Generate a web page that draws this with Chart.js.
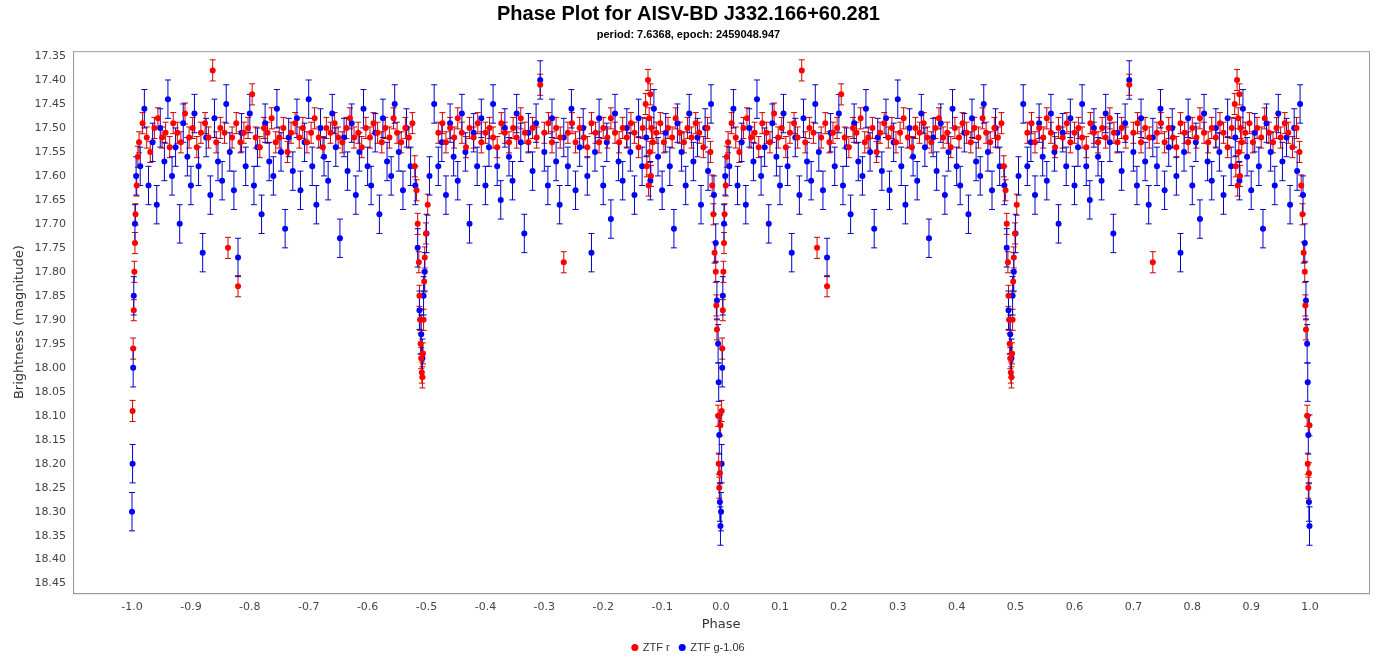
<!DOCTYPE html>
<html>
<head>
<meta charset="utf-8">
<script src="https://cdn.jsdelivr.net/npm/chart.js@4"></script>
<style>
  body { margin: 0; background: #fff; font-family: "DejaVu Sans", sans-serif; }
  #wrap { position: relative; width: 1381px; height: 667px; }
</style>
</head>
<body>
<div id="wrap"><canvas id="phaseChart" width="1381" height="667"></canvas></div>
<script>
// ZTF r: phase (0..1) and magnitude
const rPhase = [0.012,0.018,0.025,0.031,0.038,0.044,0.051,0.057,0.064,0.07,0.077,0.083,0.09,0.097,0.103,0.11,0.117,0.124,0.13,0.137,0.143,0.15,0.157,0.163,0.17,0.177,0.18,0.184,0.19,0.197,0.204,0.21,0.217,0.224,0.23,0.237,0.244,0.25,0.257,0.264,0.27,0.277,0.284,0.29,0.297,0.304,0.31,0.317,0.324,0.33,0.337,0.344,0.35,0.357,0.364,0.37,0.377,0.384,0.39,0.397,0.404,0.41,0.417,0.424,0.43,0.437,0.444,0.45,0.457,0.464,0.47,0.476,
  0.48,0.483,0.485,0.487,0.488,0.489,0.49,0.491,0.492,0.493,0.494,0.495,0.496,0.497,0.499,0.502,
  0.52,0.527,0.533,0.54,0.547,0.553,0.56,0.567,0.573,0.58,0.587,0.593,0.6,0.607,0.613,0.62,0.627,0.633,0.64,0.647,0.653,0.66,0.667,0.673,0.68,0.687,0.693,0.7,0.707,0.713,0.72,0.727,0.733,0.74,0.747,0.753,0.76,0.767,0.773,0.78,0.787,0.793,0.8,0.807,0.813,0.82,0.827,0.833,0.84,0.847,0.853,0.86,0.867,
  0.872,0.874,0.876,0.877,0.878,0.879,0.88,0.881,0.882,0.884,
  0.89,0.897,0.903,0.91,0.917,0.923,0.93,0.937,0.943,0.95,0.957,0.963,0.97,0.977,0.982,
  0.985,0.987,0.989,0.991,0.992,0.993,0.995,0.996,0.997,0.998,0.999,0.001,0.002,0.003,0.004,0.005,0.006,0.008,0.010];
const rMag = [17.53,17.49,17.52,17.55,17.50,17.48,17.52,17.51,17.54,17.49,17.51,17.53,17.47,17.52,17.50,17.54,17.51,17.49,17.52,17.38,17.53,17.50,17.51,17.75,17.52,17.49,17.83,17.53,17.51,17.50,17.43,17.52,17.54,17.50,17.51,17.48,17.53,17.52,17.50,17.55,17.51,17.49,17.52,17.50,17.53,17.51,17.48,17.52,17.54,17.50,17.51,17.49,17.52,17.53,17.50,17.48,17.52,17.51,17.54,17.50,17.52,17.49,17.51,17.53,17.50,17.52,17.48,17.51,17.53,17.50,17.52,17.49,
  17.58,17.63,17.70,17.78,17.85,17.90,17.95,17.98,18.01,18.02,17.97,17.90,17.82,17.77,17.72,17.66,
  17.51,17.49,17.53,17.50,17.52,17.48,17.51,17.54,17.50,17.52,17.49,17.53,17.51,17.50,17.52,17.54,17.49,17.51,17.53,17.50,17.52,17.48,17.51,17.53,17.50,17.52,17.41,17.51,17.49,17.53,17.50,17.52,17.78,17.51,17.49,17.53,17.50,17.52,17.54,17.49,17.51,17.53,17.50,17.52,17.48,17.51,17.53,17.50,17.52,17.49,17.51,17.54,17.50,
  17.45,17.58,17.40,17.62,17.48,17.55,17.43,17.60,17.50,17.53,
  17.51,17.49,17.53,17.50,17.52,17.48,17.51,17.53,17.50,17.52,17.49,17.51,17.54,17.50,17.55,
  17.62,17.68,17.76,17.80,17.87,17.92,18.10,18.20,18.25,18.22,18.12,18.09,17.96,17.88,17.80,17.74,17.68,17.62,17.56];
// ZTF g-1.06
const gPhase = [0.014,0.021,0.028,0.035,0.042,0.048,0.055,0.061,0.068,0.074,0.081,0.087,0.094,0.1,0.106,0.113,0.12,0.126,0.133,0.14,0.146,0.153,0.16,0.166,0.173,0.18,0.186,0.193,0.2,0.207,0.213,0.22,0.226,0.233,0.24,0.246,0.253,0.26,0.266,0.273,0.28,0.286,0.293,0.3,0.306,0.313,0.32,0.326,0.333,0.34,0.346,0.353,0.36,0.366,0.373,0.38,0.386,0.393,0.4,0.406,0.413,0.42,0.426,0.433,0.44,0.446,0.453,0.46,0.466,0.473,
  0.481,0.485,0.488,0.491,0.493,0.495,0.497,0.5,0.505,
  0.513,0.52,0.526,0.533,0.54,0.546,0.553,0.56,0.566,0.573,0.58,0.586,0.593,0.6,0.606,0.613,0.62,0.626,0.633,0.64,0.646,0.653,0.66,0.666,0.673,0.68,0.686,0.693,0.7,0.706,0.713,0.72,0.726,0.733,0.74,0.746,0.753,0.76,0.766,0.773,0.78,0.786,0.793,0.8,0.806,0.813,0.82,0.826,0.833,0.84,0.846,0.853,0.86,0.866,0.873,0.88,0.886,0.893,0.9,0.906,0.913,0.92,0.926,0.933,0.94,0.946,0.953,0.96,0.966,0.973,0.978,0.983,
  0.988,0.991,0.993,0.995,0.996,0.997,0.998,0.999,0.0,0.001,0.002,0.003,0.005,0.007];
const gMag = [17.58,17.46,17.62,17.53,17.66,17.50,17.57,17.44,17.60,17.54,17.70,17.49,17.56,17.62,17.47,17.58,17.76,17.52,17.64,17.48,17.57,17.61,17.45,17.55,17.63,17.77,17.51,17.58,17.47,17.62,17.54,17.68,17.49,17.57,17.60,17.46,17.55,17.71,17.52,17.59,17.48,17.63,17.53,17.44,17.58,17.66,17.50,17.56,17.61,17.47,17.54,17.73,17.52,17.59,17.49,17.64,17.55,17.46,17.58,17.62,17.51,17.68,17.48,17.57,17.60,17.45,17.55,17.63,17.50,17.58,
  17.62,17.75,17.88,17.93,17.98,17.85,17.80,17.72,17.60,
  17.45,17.58,17.53,17.64,17.49,17.56,17.61,17.47,17.55,17.70,17.51,17.58,17.48,17.62,17.54,17.45,17.58,17.65,17.50,17.56,17.61,17.47,17.53,17.72,17.51,17.59,17.49,17.40,17.55,17.62,17.48,17.57,17.66,17.52,17.58,17.46,17.63,17.54,17.50,17.60,17.76,17.55,17.48,17.62,17.53,17.69,17.47,17.57,17.61,17.50,17.55,17.64,17.48,17.58,17.52,17.61,17.46,17.56,17.63,17.51,17.58,17.71,17.49,17.55,17.62,17.47,17.57,17.52,17.66,17.50,17.59,17.45,
  17.64,17.74,17.86,17.95,18.03,18.14,18.28,18.33,18.30,18.20,18.00,17.85,17.70,17.60];
const rErr = 0.022;
const gErr = 0.04;
const xTicks = [-1.0,-0.9,-0.8,-0.7,-0.6,-0.5,-0.4,-0.3,-0.2,-0.1,0.0,0.1,0.2,0.3,0.4,0.5,0.6,0.7,0.8,0.9,1.0];

// each observation appears twice: at phase p and p-1
function folded(ph, mag) {
  const pts = [];
  ph.forEach((p, i) => {
    pts.push({ x: p, y: mag[i] });
    pts.push({ x: p - 1, y: mag[i] });
  });
  return pts;
}

// Error bars drawn through the scales
const errorBars = {
  id: "errorBars",
  beforeDatasetsDraw(chart) {
    const c = chart.ctx, xs = chart.scales.x, ys = chart.scales.y;
    c.save();
    chart.data.datasets.forEach(ds => {
      c.strokeStyle = ds.barColor;
      c.lineWidth = 1;
      ds.data.forEach(pt => {
        const x = xs.getPixelForValue(pt.x);
        const y1 = ys.getPixelForValue(pt.y - ds.err);
        const y2 = ys.getPixelForValue(pt.y + ds.err);
        c.beginPath();
        c.moveTo(x, y1); c.lineTo(x, y2);
        c.moveTo(x - 3, y1); c.lineTo(x + 3, y1);
        c.moveTo(x - 3, y2); c.lineTo(x + 3, y2);
        c.stroke();
      });
    });
    c.restore();
  }
};

// gray frame around the plot area
const frame = {
  id: "frame",
  afterDraw(chart) {
    const a = chart.chartArea, c = chart.ctx;
    c.save();
    c.strokeStyle = "#999";
    c.lineWidth = 1;
    c.strokeRect(a.left + 0.5, a.top + 0.5, a.right - a.left, a.bottom - a.top);
    c.restore();
  }
};

const ctx = document.getElementById("phaseChart").getContext("2d");
new Chart(ctx, {
  type: "scatter",
  data: {
    datasets: [
      { label: "ZTF r", data: folded(rPhase, rMag), err: rErr, barColor: "#d00000",
        backgroundColor: "#ff0000", borderColor: "#ff0000", pointRadius: 3, pointBorderWidth: 0, order: 1 },
      { label: "ZTF g-1.06", data: folded(gPhase, gMag), err: gErr, barColor: "#0000cc",
        backgroundColor: "#0000ff", borderColor: "#0000ff", pointRadius: 3, pointBorderWidth: 0, order: 2 }
    ]
  },
  options: {
    responsive: false,
    animation: false,
    layout: { padding: { left: 8, right: 12, top: 0, bottom: 4 } },
    plugins: {
      title: { display: true, text: "Phase Plot for AISV-BD J332.166+60.281", color: "#000",
        font: { family: "Liberation Sans", size: 20, weight: "bold" }, padding: { top: 2, bottom: 2 } },
      subtitle: { display: true, text: "period: 7.6368, epoch: 2459048.947", color: "#000",
        font: { family: "Liberation Sans", size: 11, weight: "bold" }, padding: { bottom: 10 } },
      legend: { position: "bottom", labels: { usePointStyle: true, boxWidth: 5, boxHeight: 5,
        color: "#333", font: { family: "Liberation Sans", size: 11 } } },
      tooltip: { enabled: false }
    },
    scales: {
      x: {
        type: "linear", min: -1.1, max: 1.1,
        afterBuildTicks: axis => { axis.ticks = xTicks.map(v => ({ value: v })); },
        grid: { display: false, drawTicks: true, tickLength: 4, tickColor: "#999" },
        border: { color: "#999" },
        ticks: { color: "#444", font: { family: "DejaVu Sans", size: 11 }, maxRotation: 0, autoSkip: false,
          callback: v => v.toFixed(1) },
        title: { display: true, text: "Phase", color: "#333", font: { family: "DejaVu Sans", size: 13 }, padding: 0 }
      },
      y: {
        reverse: true, min: 17.34, max: 18.47,
        afterBuildTicks: axis => {
          const t = [];
          for (let k = 0; k <= 22; k++) t.push({ value: +(17.35 + k * 0.05).toFixed(2) });
          axis.ticks = t;
        },
        grid: { display: false, drawTicks: true, tickLength: 4, tickColor: "#999" },
        border: { color: "#999" },
        ticks: { color: "#444", font: { family: "DejaVu Sans", size: 11 }, autoSkip: false,
          callback: v => v.toFixed(2) },
        title: { display: true, text: "Brightness (magnitude)", color: "#333", font: { family: "DejaVu Sans", size: 13 } }
      }
    }
  },
  plugins: [errorBars, frame]
});
</script>
</body>
</html>
